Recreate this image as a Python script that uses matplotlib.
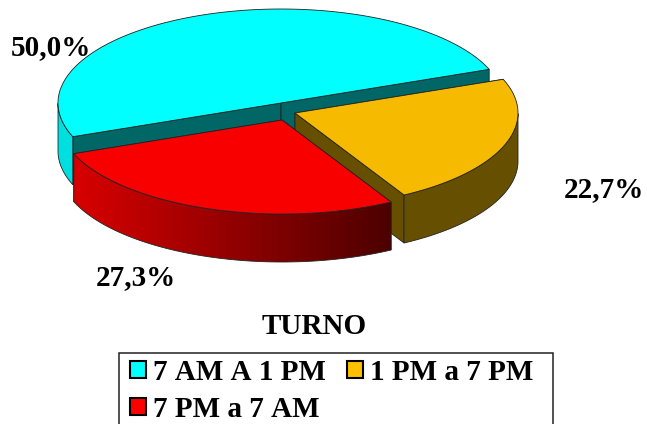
import numpy as np
import matplotlib
matplotlib.use('Agg')
import matplotlib.pyplot as plt
from matplotlib.colors import LinearSegmentedColormap
from matplotlib.patches import Patch, Polygon, Rectangle

plt.rcParams['font.family'] = ['Liberation Serif', 'DejaVu Serif']
plt.rcParams['text.kerning_factor'] = 6

# Turno
titulo = 'TURNO'
categorias = ['7 AM A 1 PM', '1 PM a 7 PM', '7 PM a 7 AM']
valores = [50.0, 22.7, 27.3]
rotulos = ['50,0%', '22,7%', '27,3%']
cores_topo = ['#00FFFF', '#F6BA00', '#F80000']
cores_lado = ['#00DFDF', '#665000', '#D80000']
cores_face = ['#006666', '#665000', '#800000']
cores_legenda = ['#00FFFF', '#FFC000', '#FF0000']

# geometria da pizza, em pixels
CX, CY = 281, 103
RX, RY = 223, 94
ALTURA = 48
INICIO = 21
DESLOC = [(0, 0), (14, 10), (1, 17)]
POS_ROTULOS = [(51, 48), (604, 190), (136, 278)]
TAM = 21

fig = plt.figure(figsize=(6.47, 4.24), dpi=100)
ax = fig.add_axes([0, 0, 1, 1])


def ponto(t, dx, dy):
    return CX + dx + RX * np.cos(t), CY + dy - RY * np.sin(t)


def fatia(a0, a1, dx, dy, topo, lado, face, gradiente=False):
    t = np.radians(np.linspace(a0, a1, 200))
    x, y = ponto(t, dx, dy)
    cx, cy = CX + dx, CY + dy

    # faces do corte
    for xb, yb in [(x[0], y[0]), (x[-1], y[-1])]:
        ax.add_patch(Polygon([(cx, cy), (xb, yb), (xb, yb + ALTURA), (cx, cy + ALTURA)],
                             fc=face, ec='#222222', lw=0.6, zorder=fatia.z))

    # parede externa, so a parte da frente
    vis = np.sin(t) <= 0
    xv, yv = x[vis], y[vis]
    parede = np.r_[np.c_[xv, yv], np.c_[xv, yv + ALTURA][::-1]]
    if gradiente:
        cmap = LinearSegmentedColormap.from_list('lado', [lado, '#4C0000'])
        img = ax.imshow(np.linspace(0, 1, 256)[None, :], cmap=cmap, aspect='auto',
                        extent=(xv.min(), xv.max(), yv.max() + ALTURA, yv.min()),
                        zorder=fatia.z + 0.1)
        pol = Polygon(parede, fc='none', ec='#222222', lw=0.6, zorder=fatia.z + 0.2)
        ax.add_patch(pol)
        img.set_clip_path(pol)
    else:
        ax.add_patch(Polygon(parede, fc=lado, ec='#222222', lw=0.6, zorder=fatia.z + 0.2))

    # tampa
    ax.add_patch(Polygon(np.r_[[(cx, cy)], np.c_[x, y]], fc=topo, ec='#222222', lw=0.6,
                         zorder=fatia.z + 0.3))
    fatia.z += 1


fatia.z = 1
ang = INICIO + 180 * valores[0] / 50.0
for i, v in enumerate(valores):
    fim = ang - v * 3.6
    fatia(ang, fim, DESLOC[i][0], DESLOC[i][1], cores_topo[i], cores_lado[i], cores_face[i],
          gradiente=(i == 2))
    ang = fim

for txt, (x, y) in zip(rotulos, POS_ROTULOS):
    ax.text(x, y, txt, ha='center', va='center', fontsize=TAM, fontweight='bold', zorder=20)

ax.text(314.5, 327, titulo, ha='center', va='center', fontsize=TAM, fontweight='bold')

# caixa da legenda, aberta embaixo na borda da figura
ax.add_patch(Rectangle((118.5, 352.5), 434, 80, fc='white', ec='#222222', lw=1.1, zorder=25))

# coluna a coluna: ciano e vermelho na primeira, amarelo na segunda
ordem = [0, 2, 1]
handles = [Patch(fc=cores_legenda[i], ec='black', lw=1.5, label=categorias[i]) for i in ordem]
leg = ax.legend(handles=handles, loc='upper left', bbox_to_anchor=(130 / 647, 1 - 359 / 424),
                borderaxespad=0, ncol=2, frameon=False, handlelength=0.55, handleheight=0.55,
                handletextpad=0.23, columnspacing=0.73, labelspacing=0.33, borderpad=0,
                prop={'weight': 'bold', 'size': TAM})
leg.set_zorder(30)

ax.set_xlim(0, 647)
ax.set_ylim(424, 0)
ax.axis('off')

fig.savefig('out.png', dpi=100)
